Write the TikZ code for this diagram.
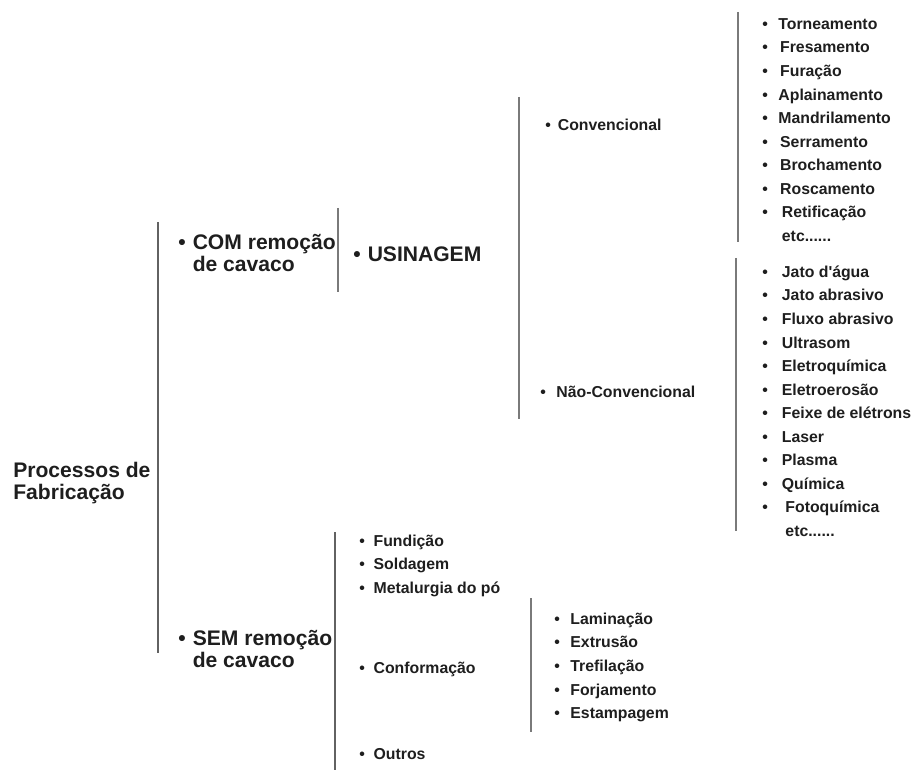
\documentclass[tikz,border=0pt]{standalone}
\usepackage{fontspec}
\setmainfont{Liberation Sans}
\usetikzlibrary{positioning}
\definecolor{bargray}{HTML}{7A7A7A}
\definecolor{inkgray}{HTML}{1E1E1E}

\begin{document}
\begin{tikzpicture}[
x = 0.02cm, y = -0.02cm,
node distance = 4pt,
every node/.style = {
	font = \bfseries,
	text = inkgray,
	inner sep = 0pt
},
big item/.style = {
	font = \fontsize{12}{13}\selectfont\bfseries,
	align = left,
	anchor = west
},
item/.style = {
	font = \fontsize{9}{11}\selectfont\bfseries,
	text height = 7pt,
	text depth = 2pt,
	anchor = west
},
bar/.style = {
	bargray,
	line width = 1.1pt
}
]

\useasboundingbox (0,0) rectangle (917,770);

% main branches
\node [big item] (proc) at (13,483) {Processos de\\Fabrica\c{c}\~ao};
\node [big item] (com) at (178,253) {\textbullet\hspace{4pt}COM remo\c{c}\~ao\\\phantom{\textbullet}\hspace{4pt}de cavaco};
\node [big item] (sem) at (178,649) {\textbullet\hspace{4pt}SEM remo\c{c}\~ao\\\phantom{\textbullet}\hspace{4pt}de cavaco};
\node [big item] (usi) at (353,254) {\textbullet\hspace{4pt}USINAGEM};

\node [item] (conv) at (545,126) {\textbullet\hspace{4pt}Convencional};
\node [item] (nconv) at (540,393) {\textbullet\hspace{6pt}N\~ao-Convencional};

% convencional
\node [item] (tor) at (762,25) {\textbullet\hspace{6pt}Torneamento};
\node [item, below = of tor.south west, anchor = north west] (fre) {\textbullet\hspace{7pt}Fresamento};
\node [item, below = of fre.south west, anchor = north west] (fur) {\textbullet\hspace{7pt}Fura\c{c}\~ao};
\node [item, below = of fur.south west, anchor = north west] (apl) {\textbullet\hspace{6pt}Aplainamento};
\node [item, below = of apl.south west, anchor = north west] (man) {\textbullet\hspace{6pt}Mandrilamento};
\node [item, below = of man.south west, anchor = north west] (ser) {\textbullet\hspace{7pt}Serramento};
\node [item, below = of ser.south west, anchor = north west] (bro) {\textbullet\hspace{7pt}Brochamento};
\node [item, below = of bro.south west, anchor = north west] (ros) {\textbullet\hspace{7pt}Roscamento};
\node [item, below = of ros.south west, anchor = north west] (ret) {\textbullet\hspace{8pt}Retifica\c{c}\~ao};
\node [item, below = of ret.south west, anchor = north west] (etc1) {\phantom{\textbullet}\hspace{8pt}etc......};

% nao-convencional
\node [item] (jat) at (762,273) {\textbullet\hspace{8pt}Jato d\textquotesingle\'agua};
\node [item, below = of jat.south west, anchor = north west] (jab) {\textbullet\hspace{8pt}Jato abrasivo};
\node [item, below = of jab.south west, anchor = north west] (flu) {\textbullet\hspace{8pt}Fluxo abrasivo};
\node [item, below = of flu.south west, anchor = north west] (ult) {\textbullet\hspace{8pt}Ultrasom};
\node [item, below = of ult.south west, anchor = north west] (eqm) {\textbullet\hspace{8pt}Eletroqu\'imica};
\node [item, below = of eqm.south west, anchor = north west] (ero) {\textbullet\hspace{8pt}Eletroeros\~ao};
\node [item, below = of ero.south west, anchor = north west] (fei) {\textbullet\hspace{8pt}Feixe de el\'etrons};
\node [item, below = of fei.south west, anchor = north west] (las) {\textbullet\hspace{8pt}Laser};
\node [item, below = of las.south west, anchor = north west] (pla) {\textbullet\hspace{8pt}Plasma};
\node [item, below = of pla.south west, anchor = north west] (qui) {\textbullet\hspace{8pt}Qu\'imica};
\node [item, below = of qui.south west, anchor = north west] (foto) {\textbullet\hspace{10pt}Fotoqu\'imica};
\node [item, below = of foto.south west, anchor = north west] (etc2) {\phantom{\textbullet}\hspace{10pt}etc......};

% sem remocao
\node [item] (fund) at (359,542) {\textbullet\hspace{5pt}Fundi\c{c}\~ao};
\node [item, below = of fund.south west, anchor = north west] (sold) {\textbullet\hspace{5pt}Soldagem};
\node [item, below = of sold.south west, anchor = north west] (met) {\textbullet\hspace{5pt}Metalurgia do p\'o};
\node [item] (conf) at (359,669) {\textbullet\hspace{5pt}Conforma\c{c}\~ao};
\node [item] (out) at (359,755) {\textbullet\hspace{5pt}Outros};

% conformacao
\node [item] (lam) at (554,620) {\textbullet\hspace{6pt}Lamina\c{c}\~ao};
\node [item, below = of lam.south west, anchor = north west] (ext) {\textbullet\hspace{6pt}Extrus\~ao};
\node [item, below = of ext.south west, anchor = north west] (tre) {\textbullet\hspace{6pt}Trefila\c{c}\~ao};
\node [item, below = of tre.south west, anchor = north west] (forj) {\textbullet\hspace{6pt}Forjamento};
\node [item, below = of forj.south west, anchor = north west] (est) {\textbullet\hspace{6pt}Estampagem};

% brackets
\draw [bar, bargray!80!black] (158,222) -- (158,653);
\draw [bar] (338,208) -- (338,292);
\draw [bar] (519,97) -- (519,419);
\draw [bar] (738,12) -- (738,242);
\draw [bar] (736,258) -- (736,531);
\draw [bar, bargray!80!black] (335,532) -- (335,770);
\draw [bar] (531,598) -- (531,732);

\end{tikzpicture}
\end{document}
